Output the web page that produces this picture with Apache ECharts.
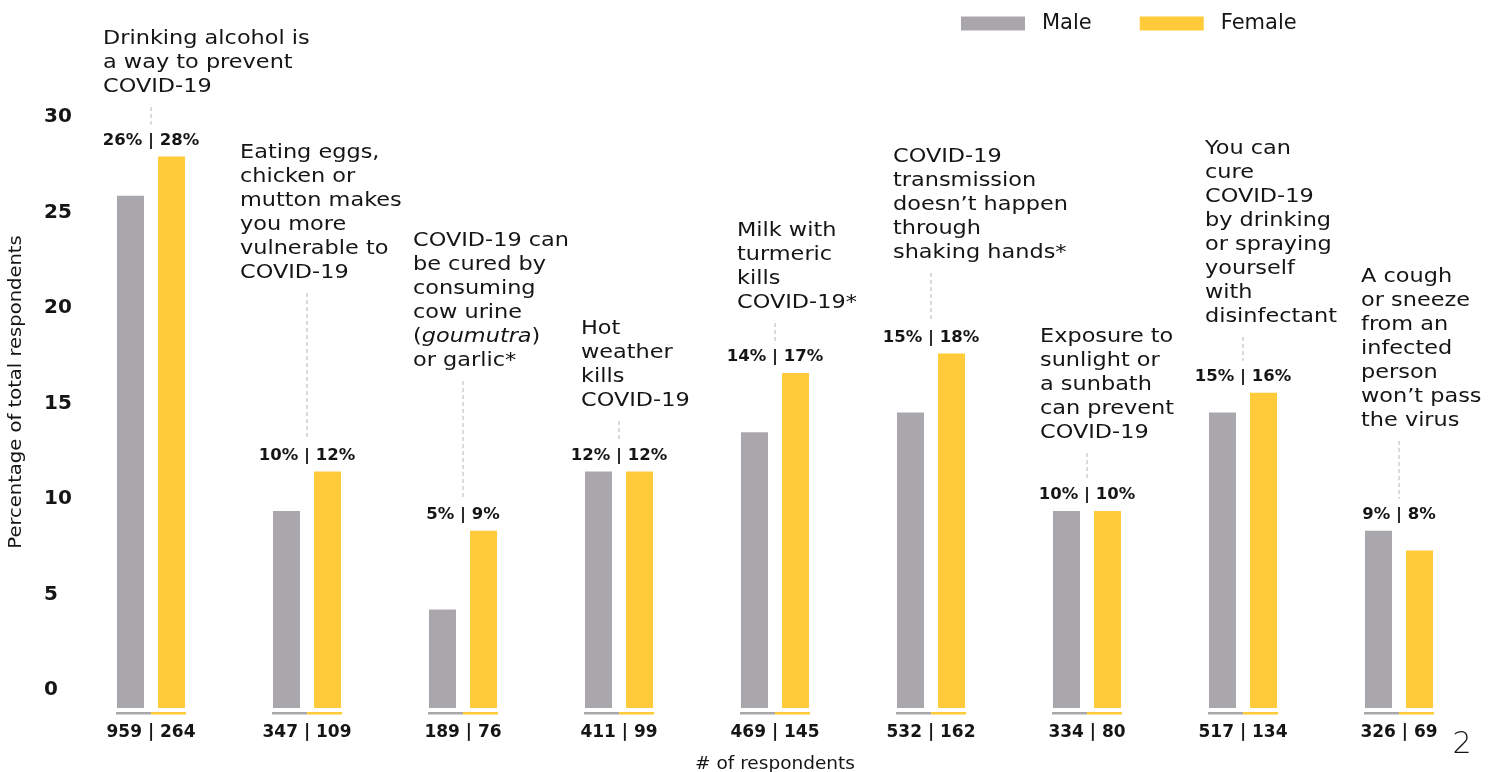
<!DOCTYPE html>
<html>
<head>
<meta charset="utf-8">
<script src="https://cdn.jsdelivr.net/npm/echarts@6/dist/echarts.min.js"></script>
<style>
  html, body { margin: 0; padding: 0; background: #fff; }
  #chart { width: 1496px; height: 772px; }
</style>
</head>
<body>
<div id="chart"></div>
<script>
// Statements asked about (line breaks as they are set above each pair of bars)
const myths = [
  'Drinking alcohol is\na way to prevent\nCOVID-19',
  'Eating eggs,\nchicken or\nmutton makes\nyou more\nvulnerable to\nCOVID-19',
  'COVID-19 can\nbe cured by\nconsuming\ncow urine\n({i|goumutra})\nor garlic*',
  'Hot\nweather\nkills\nCOVID-19',
  'Milk with\nturmeric\nkills\nCOVID-19*',
  'COVID-19\ntransmission\ndoesn\u2019t happen\nthrough\nshaking hands*',
  'Exposure to\nsunlight or\na sunbath\ncan prevent\nCOVID-19',
  'You can\ncure\nCOVID-19\nby drinking\nor spraying\nyourself\nwith\ndisinfectant',
  'A cough\nor sneeze\nfrom an\ninfected\nperson\nwon\u2019t pass\nthe virus'
];
// Share of respondents (%) who believe each statement
const malePct   = [26, 10, 5, 12, 14, 15, 10, 15, 9];
const femalePct = [28, 12, 9, 12, 17, 18, 10, 16, 8];
// Number of respondents
const maleN   = [959, 347, 189, 411, 469, 532, 334, 517, 326];
const femaleN = [264, 109, 76, 99, 145, 162, 80, 134, 69];
// Value-axis tick labels
const yTicks = [0, 5, 10, 15, 20, 25, 30];

// Placement of the statement blocks: x offset from the category centre and
// vertical centre of the first line (px)
const noteDx = [-48, -67, -50, -38, -38, -38, -47, -38, -38];
const noteY  = [39, 153, 241, 329, 231, 157, 337, 149, 277];

const FONT = 'DejaVu Sans';
const GREY = '#A9A7AC';
const YELLOW = '#FFCB3B';
const INK = '#151515';
const LINE_H = 24;
const WIDEN = 1.12; // horizontal stretch for the wide display face

const countLabels = maleN.map((m, i) => m + ' | ' + femaleN[i]);

const chart = echarts.init(document.getElementById('chart'), null, { renderer: 'canvas' });

function renderNote(params, api) {
  const i = api.value(0);
  const top = api.coord([i, api.value(1)]);
  const base = api.coord([i, 0]);
  const cx = base[0];
  const labelY = top[1] - 16;
  const nLines = myths[i].split('\n').length;
  const lineStart = noteY[i] + (nLines - 1) * LINE_H + 20;
  const lineEnd = labelY - 16;
  const children = [
    {
      type: 'rect',
      shape: { x: cx - 35, y: base[1] + 4, width: 35, height: 2.5 },
      style: { fill: GREY }
    },
    {
      type: 'rect',
      shape: { x: cx, y: base[1] + 4, width: 35, height: 2.5 },
      style: { fill: YELLOW }
    },
    {
      type: 'text',
      style: {
        x: cx, y: labelY,
        text: malePct[i] + '% | ' + femalePct[i] + '%',
        align: 'center', verticalAlign: 'middle',
        fontFamily: FONT, fontSize: 16.5, fontWeight: 'bold', fill: INK
      }
    },
    {
      type: 'text',
      x: cx + noteDx[i], y: noteY[i] - LINE_H / 2,
      scaleX: WIDEN,
      style: {
        x: 0, y: 0,
        text: myths[i],
        align: 'left', verticalAlign: 'top',
        fontFamily: FONT, fontSize: 20, lineHeight: LINE_H, fill: INK,
        rich: {
          i: { fontFamily: FONT, fontSize: 20, fontStyle: 'italic', lineHeight: LINE_H, fill: INK }
        }
      }
    }
  ];
  if (lineEnd > lineStart) {
    children.push({
      type: 'line',
      shape: { x1: cx, y1: lineStart, x2: cx, y2: lineEnd },
      style: { stroke: '#C2C2C2', lineWidth: 1.2, lineDash: [4, 3] }
    });
  }
  return { type: 'group', children };
}

chart.setOption({
  animation: false,
  backgroundColor: '#fff',
  textStyle: { fontFamily: FONT },
  legend: {
    data: ['Male', 'Female'],
    left: 961, top: 13,
    padding: 0,
    icon: 'rect',
    itemWidth: 64, itemHeight: 14, itemGap: 48,
    textStyle: { fontFamily: FONT, fontSize: 21, color: INK, padding: [0, 0, 0, 12] }
  },
  grid: { left: 73, right: 19, top: 117, bottom: 64, outerBoundsMode: 'none' },
  xAxis: {
    type: 'category',
    data: countLabels,
    axisLine: { show: false },
    axisTick: { show: false },
    axisLabel: { fontFamily: FONT, fontSize: 17, fontWeight: 'bold', color: INK, margin: 16 },
    name: '# of respondents',
    nameLocation: 'middle',
    nameGap: 47,
    nameTextStyle: { fontFamily: FONT, fontSize: 18.5, color: INK }
  },
  yAxis: [
    {
      type: 'value', min: 0, max: 30, interval: 5,
      show: false
    },
    {
      // label-only axis; tick labels sit slightly above their gridlines
      type: 'value', min: -0.942, max: 30,
      position: 'left',
      axisLine: { show: false },
      axisTick: { show: false },
      splitLine: { show: false },
      axisLabel: {
        customValues: yTicks,
        align: 'left', margin: 29,
        fontFamily: FONT, fontSize: 20, fontWeight: 'bold', color: INK
      }
    }
  ],
  graphic: [
    {
      type: 'text', x: 17, y: 392, rotation: Math.PI / 2, scaleX: 1.15,
      style: {
        text: 'Percentage of total respondents',
        align: 'center', verticalAlign: 'middle',
        fontFamily: FONT, fontSize: 17, fill: INK
      }
    },
    {
      type: 'text', x: 1462, y: 745,
      style: {
        text: '2', align: 'center', verticalAlign: 'middle',
        fontFamily: FONT, fontSize: 30, fontWeight: 200, fill: INK
      }
    }
  ],
  series: [
    {
      name: 'Male', type: 'bar', yAxisIndex: 0,
      data: malePct, barWidth: 27, barGap: '52%',
      itemStyle: { color: GREY }
    },
    {
      name: 'Female', type: 'bar', yAxisIndex: 0,
      data: femalePct, barWidth: 27,
      itemStyle: { color: YELLOW }
    },
    {
      type: 'custom', yAxisIndex: 0,
      data: malePct.map((m, i) => [i, Math.max(m, femalePct[i])]),
      encode: { x: 0, y: 1 },
      renderItem: renderNote,
      silent: true
    }
  ]
});
</script>
</body>
</html>
